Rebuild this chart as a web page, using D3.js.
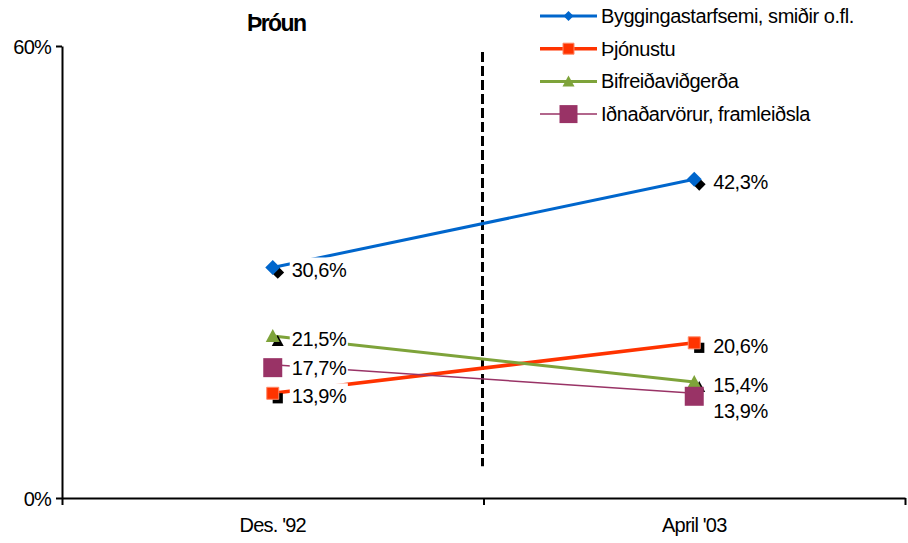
<!DOCTYPE html>
<html>
<head>
<meta charset="utf-8">
<script src="https://cdn.jsdelivr.net/npm/d3@7"></script>
<style>
  body { margin: 0; background: #fff; }
  svg text { font-family: "Liberation Sans", Arial, sans-serif; fill: #000; }
  .axis path, .axis line { stroke: #000; stroke-width: 2px; }
  .axis text { font-size: 20px; letter-spacing: -0.8px; }
  .title { font-size: 23px; font-weight: bold; letter-spacing: -1.6px; }
  .legend-label { font-size: 20px; letter-spacing: -0.45px; }
  .value-label { font-size: 20px; letter-spacing: -0.45px; }
</style>
</head>
<body>
<div id="chart"></div>
<script>
// categories on the x axis
const categories = ["Des. '92", "April '03"];

// series names and values (percent)
const seriesNames = [
  "Byggingastarfsemi, smiðir o.fl.",
  "Þjónustu",
  "Bifreiðaviðgerða",
  "Iðnaðarvörur, framleiðsla"
];
const byggingValues = [30.6, 42.3];
const thjonustaValues = [13.9, 20.6];
const bifreidValues = [21.5, 15.4];
const idnadurValues = [17.7, 13.9];

const yTicks = [0, 60];
const dividerRange = [59.2, 4.2];

const seriesStyle = [
  {color: "#0066cc", width: 3, marker: "diamond", size: 15, legendSize: 10},
  {color: "#ff3300", width: 3.5, marker: "square", size: 12, legendSize: 11},
  {color: "#7ea33a", width: 3, marker: "triangle", size: 14, legendSize: 12},
  {color: "#993366", width: 1.5, marker: "bigsquare", size: 19, legendSize: 18}
];

const series = seriesNames.map((name, i) => ({
  name: name,
  values: [byggingValues, thjonustaValues, bifreidValues, idnadurValues][i],
  style: seriesStyle[i]
}));

const config = {
  width: 908,
  height: 543,
  margin: {top: 46, right: 3, bottom: 45, left: 62}
};

const innerW = config.width - config.margin.left - config.margin.right;
const innerH = config.height - config.margin.top - config.margin.bottom;

const svg = d3.select("#chart").append("svg")
    .attr("width", config.width)
    .attr("height", config.height);

const chart = svg.append("g")
    .attr("transform", `translate(${config.margin.left},${config.margin.top})`);

const xBand = d3.scaleBand().domain(categories).range([0, innerW]);
const xPoint = d3.scalePoint().domain(categories).range([0, innerW]).padding(0.5);
const xEdge = d3.scaleLinear().domain([0, categories.length]).range([0, innerW]);
const yScale = d3.scaleLinear().domain([0, 60]).range([innerH, 0]);

// marker path generator
function markerPath(type, s) {
  const h = s / 2;
  if (type === "diamond") return `M0,${-h}L${h},0L0,${h}L${-h},0Z`;
  if (type === "triangle") return `M0,${-h}L${h},${h * 0.85}L${-h},${h * 0.85}Z`;
  return `M${-h},${-h}H${h}V${h}H${-h}Z`;
}

// axes
const yAxis = d3.axisLeft(yScale)
    .tickValues(yTicks)
    .tickFormat(d => d + "%")
    .tickSizeInner(6)
    .tickSizeOuter(0)
    .tickPadding(5);

chart.append("g").attr("class", "axis y-axis").call(yAxis)
  .selectAll(".tick text").attr("dy", "0.35em");

const xEdgeAxis = d3.axisBottom(xEdge)
    .ticks(categories.length)
    .tickFormat("")
    .tickSizeInner(7)
    .tickSizeOuter(0);

chart.append("g").attr("class", "axis x-axis")
    .attr("transform", `translate(0,${innerH})`)
    .call(xEdgeAxis);

const xLabelAxis = d3.axisBottom(xBand).tickSize(0).tickPadding(20);
const xLabels = chart.append("g").attr("class", "axis x-labels")
    .attr("transform", `translate(0,${innerH})`)
    .call(xLabelAxis);
xLabels.select(".domain").remove();

// dashed divider between periods
chart.append("line")
    .attr("x1", xEdge(1) - 1)
    .attr("x2", xEdge(1) - 1)
    .attr("y1", yScale(dividerRange[0]))
    .attr("y2", yScale(dividerRange[1]))
    .attr("stroke", "#000")
    .attr("stroke-width", 3)
    .attr("stroke-dasharray", "10,4");

// lines
const line = d3.line()
    .x((d, i) => xPoint(categories[i]))
    .y(d => yScale(d));

chart.selectAll(".series-line")
    .data(series)
  .join("path")
    .attr("class", "series-line")
    .attr("fill", "none")
    .attr("stroke", d => d.style.color)
    .attr("stroke-width", d => d.style.width)
    .attr("d", d => line(d.values));

// value labels with white background, simple collision push-down per category
const fmt = v => d3.format(".1f")(v).replace(".", ",") + "%";
const labels = [];
series.forEach((s, si) => {
  s.values.forEach((v, ci) => {
    labels.push({si, ci, v, x: xPoint(categories[ci]) + 19, y: yScale(v) + 3});
  });
});
categories.forEach((c, ci) => {
  const group = labels.filter(l => l.ci === ci).sort((a, b) => a.y - b.y);
  for (let k = 1; k < group.length; k++) {
    if (group[k].y - group[k - 1].y < 24) group[k].y = group[k - 1].y + 26;
  }
});

const labelG = chart.append("g");
labels.forEach(l => {
  const g = labelG.append("g");
  const t = g.append("text")
      .attr("class", "value-label")
      .attr("x", l.x)
      .attr("y", l.y)
      .attr("dy", "0.35em")
      .text(fmt(l.v));
  const bb = t.node().getBBox();
  g.insert("rect", "text")
      .attr("x", bb.x - 2)
      .attr("y", bb.y - 2)
      .attr("width", bb.width + 3)
      .attr("height", bb.height + 4)
      .attr("fill", "#fff");
});

// markers with black shadow
const markerG = chart.append("g");
series.forEach(s => {
  s.values.forEach((v, ci) => {
    const cx = xPoint(categories[ci]);
    const cy = yScale(v);
    if (s.style.marker !== "bigsquare") {
      markerG.append("path")
          .attr("d", markerPath(s.style.marker, s.style.size * 0.85))
          .attr("transform", `translate(${cx + 5},${cy + 5})`)
          .attr("fill", "#000");
    }
    markerG.append("path")
        .attr("d", markerPath(s.style.marker, s.style.size))
        .attr("transform", `translate(${cx},${cy + (s.style.marker === "bigsquare" ? 3 : 0)})`)
        .attr("fill", s.style.color)
        .attr("stroke", s.style.marker === "square" ? "#ff8866" : "none")
        .attr("stroke-width", 1);
  });
});

// title
svg.append("text")
    .attr("class", "title")
    .attr("x", 247)
    .attr("y", 31)
    .text("Þróun");

// legend
const legend = svg.append("g").attr("transform", "translate(540,16)");
const legendRows = legend.selectAll(".legend-row")
    .data(series)
  .join("g")
    .attr("class", "legend-row")
    .attr("transform", (d, i) => `translate(0,${i * 32.7})`);

legendRows.append("line")
    .attr("x1", 0).attr("x2", 57)
    .attr("stroke", d => d.style.color)
    .attr("stroke-width", d => d.style.width);

legendRows.append("path")
    .attr("d", d => markerPath(d.style.marker, d.style.legendSize))
    .attr("transform", "translate(28.5,0)")
    .attr("fill", d => d.style.color)
    .attr("stroke", d => d.style.marker === "square" ? "#ff8866" : "none");

legendRows.append("text")
    .attr("class", "legend-label")
    .attr("x", 61)
    .attr("dy", "0.35em")
    .text(d => d.name);
</script>
</body>
</html>
